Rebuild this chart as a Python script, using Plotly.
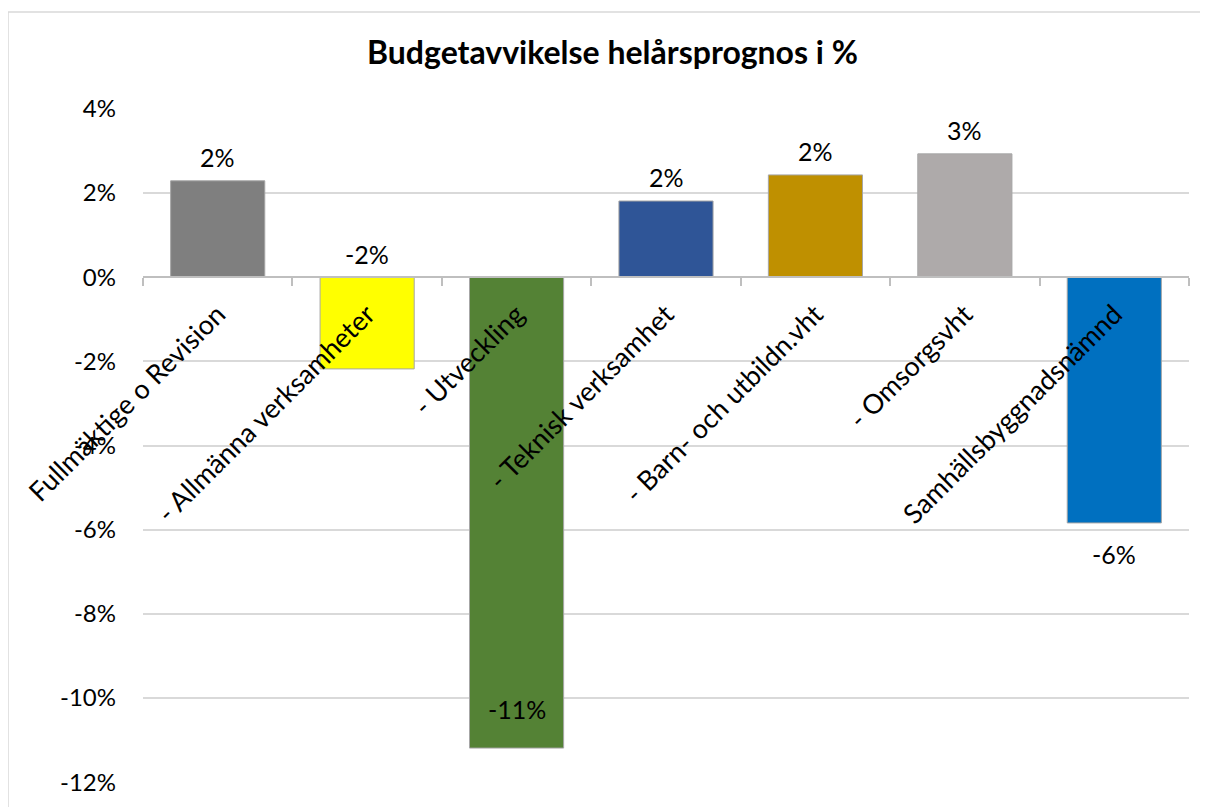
import plotly.graph_objects as go

categories = [
    "Fullmäktige o Revision",
    "- Allmänna verksamheter",
    "- Utveckling",
    "- Teknisk verksamhet",
    "- Barn- och utbildn.vht",
    "- Omsorgsvht",
    "Samhällsbyggnadsnämnd",
]
values = [2.29, -2.18, -11.19, 1.81, 2.43, 2.93, -5.84]
value_labels = ["2%", "-2%", "-11%", "2%", "2%", "3%", "-6%"]
colors = ["#7f7f7f", "#ffff00", "#548235", "#2f5597", "#bf9000", "#aeaaaa", "#0070c0"]
# label anchor (value or 0) and pixel shift, per bar
label_anchor = [2.29, 0, -11.19, 1.81, 2.43, 2.93, -5.84]
label_shift = [24, 23, 39, 24, 24, 24, -31]
y_ticks = [4, 2, 0, -2, -4, -6, -8, -10, -12]

FONT = "Lato"
y_min, y_max = -12.02, 4.02

# page is offset by the 8px body margin
W, H = 1200, 799
L, T = 135, 100
PW, PH = 1046, 675

fig = go.Figure()
fig.add_trace(go.Bar(
    x=categories,
    y=values,
    marker=dict(color=colors, line=dict(color="#a6a6a6", width=1)),
    width=0.63,
    hoverinfo="skip",
))

for c, ya, sh, t in zip(categories, label_anchor, label_shift, value_labels):
    fig.add_annotation(x=c, y=ya, text=t, showarrow=False, yshift=sh,
                       font=dict(family=FONT, size=25, color="#000000"))

# chart border
fig.add_shape(type="rect", xref="paper", yref="paper",
              x0=(0 - L) / PW, x1=(1193 - L) / PW,
              y0=(T + PH - 812) / PH, y1=(T + PH - 4) / PH,
              line=dict(color="#d9d9d9", width=1.5), fillcolor="rgba(0,0,0,0)",
              layer="below")

zero_pos = (0 - y_min) / (y_max - y_min)

fig.update_layout(
    width=W, height=H,
    margin=dict(l=L, r=W - L - PW, t=T, b=H - T - PH),
    paper_bgcolor="white", plot_bgcolor="white",
    showlegend=False,
    title=dict(text="<b>Budgetavvikelse helårsprognos i %</b>",
               x=(612.5 - 8) / W, xanchor="center", xref="container",
               y=1 - 45 / H, yanchor="middle", yref="container",
               font=dict(family=FONT, size=32, color="#000000")),
    xaxis=dict(
        type="category",
        anchor="free", position=zero_pos,
        showline=True, linecolor="#bfbfbf", linewidth=1.5,
        ticks="outside", ticklen=8, tickcolor="#bfbfbf", tickwidth=1.5,
        tickson="boundaries",
        tickangle=-45,
        ticklabelstandoff=10,
        tickfont=dict(family=FONT, size=27, color="#000000"),
        showgrid=False,
    ),
    yaxis=dict(
        range=[y_min, y_max],
        tickvals=y_ticks,
        ticktext=[f"{v}%" for v in y_ticks],
        showgrid=True, gridcolor="#d9d9d9", gridwidth=1.5,
        zeroline=False,
        showline=False,
        ticks="",
        ticklabelstandoff=26,
        tickfont=dict(family=FONT, size=24, color="#000000"),
    ),
    bargap=0.37,
)

fig.write_html("out.html")
